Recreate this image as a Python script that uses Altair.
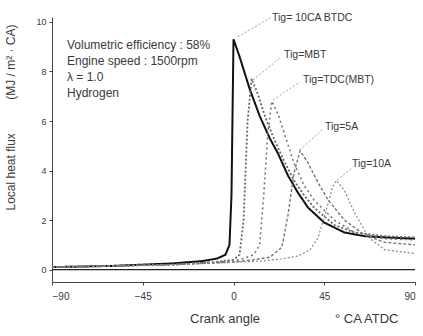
import altair as alt
import pandas as pd

# ---- data ----
series = ["Tig= 10CA BTDC", "Tig=MBT", "Tig=TDC(MBT)", "Tig=5A", "Tig=10A"]

x_a = [-90, -60, -30, -15, -8, -4, -2, -1, 0, 3, 8, 13, 18, 22, 27, 32, 37, 45, 55, 65, 75, 90]
y_a = [0.1, 0.15, 0.25, 0.35, 0.45, 0.6, 1.0, 3.0, 9.3, 8.6, 7.3, 6.2, 5.3, 4.7, 3.8, 3.1, 2.5, 1.9, 1.5, 1.35, 1.3, 1.25]

x_b = [-90, -60, -30, -10, 0, 3, 5, 7, 9, 12, 16, 20, 25, 30, 35, 40, 50, 60, 75, 90]
y_b = [0.1, 0.15, 0.2, 0.3, 0.4, 0.6, 2.0, 6.0, 7.7, 7.1, 6.1, 5.3, 4.4, 3.6, 3.0, 2.5, 1.8, 1.5, 1.35, 1.3]

x_c = [-90, -60, -30, -10, 0, 5, 10, 13, 15, 17, 19, 22, 26, 30, 35, 40, 50, 60, 75, 90]
y_c = [0.1, 0.15, 0.2, 0.3, 0.35, 0.45, 0.6, 1.0, 3.0, 5.5, 6.8, 6.3, 5.3, 4.3, 3.4, 2.8, 2.0, 1.5, 1.25, 1.2]

x_d = [-90, -60, -30, 0, 10, 18, 24, 27, 30, 33, 37, 42, 47, 55, 65, 75, 90]
y_d = [0.1, 0.15, 0.2, 0.3, 0.4, 0.5, 0.9, 2.2, 3.9, 4.8, 4.3, 3.5, 2.8, 2.0, 1.4, 1.1, 1.0]

x_e = [-90, -60, -30, 0, 15, 25, 32, 38, 42, 46, 49, 51, 55, 60, 67, 75, 90]
y_e = [0.1, 0.15, 0.2, 0.3, 0.35, 0.45, 0.55, 0.8, 1.3, 2.4, 3.3, 3.6, 3.2, 2.3, 1.3, 0.8, 0.65]

xs = [x_a, x_b, x_c, x_d, x_e]
ys = [y_a, y_b, y_c, y_d, y_e]

conditions = ["Volumetric efficiency : 58%", "Engine speed : 1500rpm", "λ = 1.0", "Hydrogen"]

# leader lines from each peak to its label (crank angle, heat flux)
lead_x1 = [2.2, 9.7, 19.6, 33.0, 51.3]
lead_y1 = [9.4, 7.66, 6.85, 4.83, 3.62]
lead_x2 = [18.1, 23.1, 33.0, 43.9, 58.8]
lead_y2 = [10.16, 8.55, 7.58, 5.64, 4.1]

x_ticks = [-90, -45, 0, 45, 90]
y_ticks = [0, 2, 4, 6, 8, 10]

x_title = ["Crank angle", "° CA ATDC"]
y_title = "Local heat flux\u00a0\u00a0\u00a0\u00a0\u00a0\u00a0\u00a0\u00a0\u00a0\u00a0(MJ / m² · CA)"

rows = []
for name, xv, yv in zip(series, xs, ys):
    for a, b in zip(xv, yv):
        rows.append({"series": name, "ca": a, "flux": b})
df = pd.DataFrame(rows)

lead = pd.DataFrame({"x1": lead_x1, "y1": lead_y1, "x2": lead_x2, "y2": lead_y2})

FONT = "Liberation Sans"
TXT = "#3a3a3a"
xscale = alt.Scale(domain=[-90, 90], nice=False, zero=False)
yscale = alt.Scale(domain=[-0.5, 10.2], nice=False, zero=False)

lines = alt.Chart(df).mark_line(clip=True).encode(
    x=alt.X("ca:Q", scale=xscale,
            axis=alt.Axis(values=x_ticks, title=None,
                          labelFont=FONT, labelFontSize=10, labelColor=TXT,
                          grid=False, tickSize=3, domainColor="#444", tickColor="#444",
                          labelPadding=6)),
    y=alt.Y("flux:Q", scale=yscale,
            axis=alt.Axis(values=y_ticks, title=y_title,
                          titleFont=FONT, titleFontSize=12, titleFontWeight="normal",
                          titleColor=TXT, labelFont=FONT, labelFontSize=9, labelColor=TXT,
                          grid=False, tickSize=3, domainColor="#444", tickColor="#444",
                          titleX=-35, titleY=100, labelPadding=3)),
    color=alt.Color("series:N", scale=alt.Scale(domain=series,
                    range=["#111111", "#666666", "#777777", "#777777", "#888888"]), legend=None),
    strokeDash=alt.StrokeDash("series:N", scale=alt.Scale(domain=series,
                    range=[[1, 0], [2, 2], [2, 3], [3, 2], [2, 2]]), legend=None),
    strokeWidth=alt.StrokeWidth("series:N", scale=alt.Scale(domain=series,
                    range=[2.0, 1.2, 1.2, 1.2, 1.2]), legend=None),
)

zero = alt.Chart(pd.DataFrame({"z": [0]})).mark_rule(color="#222", strokeWidth=1.2).encode(
    y=alt.Y("z:Q", scale=yscale)
)

leaders = alt.Chart(lead).mark_rule(color="#888", strokeWidth=0.8, strokeDash=[2, 2]).encode(
    x=alt.X("x1:Q", scale=xscale), y=alt.Y("y1:Q", scale=yscale),
    x2="x2:Q", y2="y2:Q"
)

label_px = [(220, 1), (232, 38), (251, 63), (273, 110), (300, 147)]
label_layers = []
for name, (px, py) in zip(series, label_px):
    label_layers.append(
        alt.Chart(pd.DataFrame({"t": [name]})).mark_text(
            align="left", baseline="middle", font=FONT, fontSize=10.5, color=TXT
        ).encode(x=alt.value(px), y=alt.value(py), text="t:N")
    )

cond_layers = []
for i, t in enumerate(conditions):
    cond_layers.append(
        alt.Chart(pd.DataFrame({"t": [t]})).mark_text(
            align="left", baseline="middle", font=FONT, fontSize=12, color=TXT
        ).encode(x=alt.value(15), y=alt.value(28 + i * 16), text="t:N")
    )

xtitle_layers = []
for t, px in zip(x_title, [138, 283]):
    xtitle_layers.append(
        alt.Chart(pd.DataFrame({"t": [t]})).mark_text(
            align="left", baseline="middle", font=FONT, fontSize=13, color=TXT
        ).encode(x=alt.value(px), y=alt.value(302), text="t:N")
    )

chart = alt.layer(zero, lines, leaders, *label_layers, *cond_layers, *xtitle_layers).properties(
    width=363, height=265,
    autosize=alt.AutoSizeParams(type="none"),
    padding={"left": 52, "top": 17, "right": 8, "bottom": 54},
    background="white",
).configure_view(stroke=None)

chart.save("out.html", embed_options={"renderer": "svg", "actions": False})
